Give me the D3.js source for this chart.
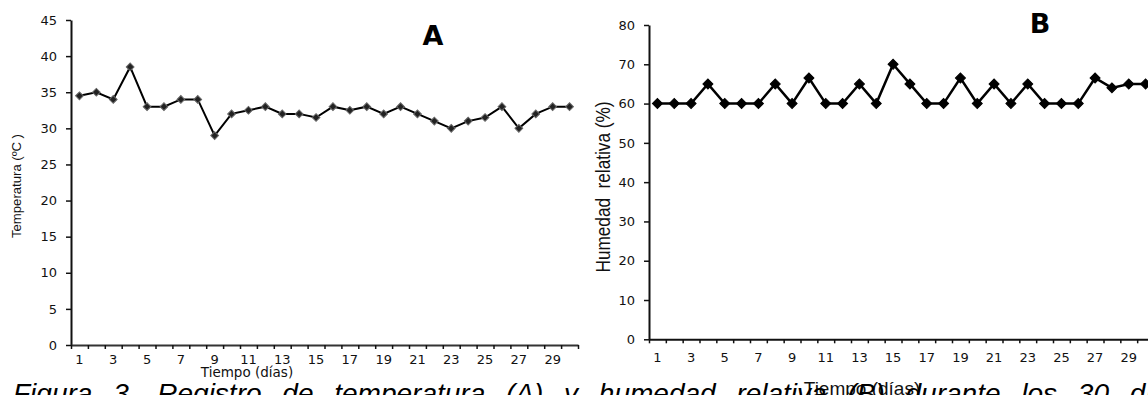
<!DOCTYPE html>
<html>
<head>
<meta charset="utf-8">
<script src="https://cdn.jsdelivr.net/npm/d3@7"></script>
<style>
  html, body { margin: 0; padding: 0; background: #fff; overflow: hidden; }
  svg { display: block; }
  .tick text { font-family: "DejaVu Sans", Verdana, sans-serif; fill: #111; }
</style>
</head>
<body>
<svg id="fig" width="1148" height="395"></svg>
<script>
// dias del registro
const days = [1, 2, 3, 4, 5, 6, 7, 8, 9, 10, 11, 12, 13, 14, 15, 16, 17, 18, 19, 20, 21, 22, 23, 24, 25, 26, 27, 28, 29, 30];
const dayLabels = [1, 3, 5, 7, 9, 11, 13, 15, 17, 19, 21, 23, 25, 27, 29];

// temperatura (ºC)
const temperature = [34.5, 35, 34, 38.5, 33, 33, 34, 34, 29, 32, 32.5, 33, 32, 32, 31.5,
                     33, 32.5, 33, 32, 33, 32, 31, 30, 31, 31.5, 33, 30, 32, 33, 33];
const tempTicks = [0, 5, 10, 15, 20, 25, 30, 35, 40, 45];

// humedad relativa (%)
const humidity = [60, 60, 60, 65, 60, 60, 60, 65, 60, 66.5, 60, 60, 65, 60, 70,
                  65, 60, 60, 66.5, 60, 65, 60, 65, 60, 60, 60, 66.5, 64, 65, 65];
const humTicks = [0, 10, 20, 30, 40, 50, 60, 70, 80];

const svg = d3.select("#fig");
svg.append("rect").attr("width", 1148).attr("height", 395).attr("fill", "#fff");

function drawPanel(cfg) {
  const g = svg.append("g");

  const x = d3.scaleBand().domain(days).range(cfg.xRange).padding(0);
  const xEdges = d3.scaleLinear().domain([0, days.length]).range(cfg.xRange);
  const y = d3.scaleLinear().domain(cfg.yDomain).range(cfg.yRange);

  // y axis
  const yAxis = g.append("g")
    .attr("transform", `translate(${cfg.xRange[0]},0)`)
    .call(d3.axisLeft(y).tickValues(cfg.yTicks).tickSize(5).tickPadding(cfg.yPad).tickSizeOuter(0));
  yAxis.select(".domain").attr("stroke", "#111").attr("stroke-width", 2);
  yAxis.selectAll(".tick line").attr("stroke", "#111").attr("stroke-width", 1.5);
  yAxis.selectAll(".tick text").attr("font-size", cfg.tickFont);

  // x axis: marcas en los bordes de cada dia
  const xAxisTicks = g.append("g")
    .attr("transform", `translate(0,${cfg.yRange[0]})`)
    .call(d3.axisBottom(xEdges).ticks(days.length).tickSize(4).tickFormat("").tickSizeOuter(0));
  xAxisTicks.select(".domain").attr("stroke", cfg.xAxisColor).attr("stroke-width", 2);
  xAxisTicks.selectAll(".tick line").attr("stroke", "#111").attr("stroke-width", 1.5);

  // x labels (dias impares)
  const xAxisLabels = g.append("g")
    .attr("transform", `translate(0,${cfg.yRange[0]})`)
    .call(d3.axisBottom(x).tickValues(dayLabels).tickSize(0).tickPadding(cfg.xPad));
  xAxisLabels.select(".domain").remove();
  xAxisLabels.selectAll(".tick text").attr("font-size", cfg.tickFont);

  // linea
  const line = d3.line()
    .x((d, i) => x(days[i]) + x.bandwidth() / 2)
    .y(d => y(d));
  g.append("path")
    .datum(cfg.values)
    .attr("fill", "none")
    .attr("stroke", "#000")
    .attr("stroke-width", cfg.lineWidth)
    .attr("stroke-linejoin", "miter")
    .attr("d", line);

  // marcadores rombo
  const sym = d3.symbol().type(d3.symbolSquare).size(cfg.markerSize);
  g.selectAll(".mk")
    .data(cfg.values)
    .join("path")
    .attr("class", "mk")
    .attr("d", sym)
    .attr("transform", (d, i) => `translate(${x(days[i]) + x.bandwidth() / 2},${y(d)}) rotate(45)`)
    .attr("fill", cfg.markerFill)
    .attr("stroke", cfg.markerStroke)
    .attr("stroke-width", 1);

  // letra del panel
  g.append("text")
    .attr("x", cfg.letterX).attr("y", cfg.letterY)
    .attr("text-anchor", "middle")
    .attr("font-family", "'DejaVu Sans', Verdana, sans-serif")
    .attr("font-weight", "bold")
    .attr("font-size", 27)
    .text(cfg.letter);

  // titulo eje y
  g.append("text")
    .attr("transform", `translate(${cfg.yTitleX},${cfg.yTitleY}) rotate(-90)`)
    .attr("text-anchor", "middle")
    .attr("font-family", "'Liberation Sans', Arial, sans-serif")
    .attr("font-size", cfg.yTitleFont)
    .attr("textLength", cfg.yTitleLen)
    .attr("lengthAdjust", "spacingAndGlyphs")
    .style("white-space", "pre")
    .attr("fill", "#111")
    .text(cfg.yTitle);

  // titulo eje x
  g.append("text")
    .attr("x", cfg.xTitleX).attr("y", cfg.xTitleY)
    .attr("text-anchor", "middle")
    .attr("font-family", cfg.xTitleFamily)
    .attr("font-size", cfg.xTitleFont)
    .attr("fill", "#111")
    .text("Tiempo (días)");
}

drawPanel({
  values: temperature,
  xRange: [71, 578], yRange: [345, 20], yDomain: [0, 45], yTicks: tempTicks,
  yPad: 9, xPad: 10, tickFont: 13, xAxisColor: "#333",
  lineWidth: 2, markerSize: 30, markerFill: "#222", markerStroke: "#666",
  letter: "A", letterX: 433, letterY: 45,
  yTitle: "Temperatura (ºC )", yTitleX: 21, yTitleY: 186, yTitleFont: 12.5, yTitleLen: 104,
  xTitleX: 247, xTitleY: 377, xTitleFont: 13.5, xTitleFamily: "'DejaVu Sans', Verdana, sans-serif"
});

drawPanel({
  values: humidity,
  xRange: [649, 1154], yRange: [339.3, 25], yDomain: [0, 80], yTicks: humTicks,
  yPad: 9, xPad: 13, tickFont: 13, xAxisColor: "#111",
  lineWidth: 2.5, markerSize: 50, markerFill: "#000", markerStroke: "#000",
  letter: "B", letterX: 1040, letterY: 33,
  yTitle: "Humedad  relativa (%)", yTitleX: 610, yTitleY: 187, yTitleFont: 20, yTitleLen: 171,
  xTitleX: 862, xTitleY: 395, xTitleFont: 19, xTitleFamily: "'Liberation Sans', Arial, sans-serif"
});

// pie de figura (cortado en el borde inferior)
svg.append("text")
  .attr("x", 13).attr("y", 403)
  .attr("font-family", "'Liberation Sans', Arial, sans-serif")
  .attr("font-style", "italic")
  .attr("font-size", 28)
  .attr("word-spacing", 13)
  .attr("fill", "#000")
  .text("Figura 3. Registro de temperatura (A) y humedad relativa (B) durante los 30 días");
</script>
</body>
</html>
